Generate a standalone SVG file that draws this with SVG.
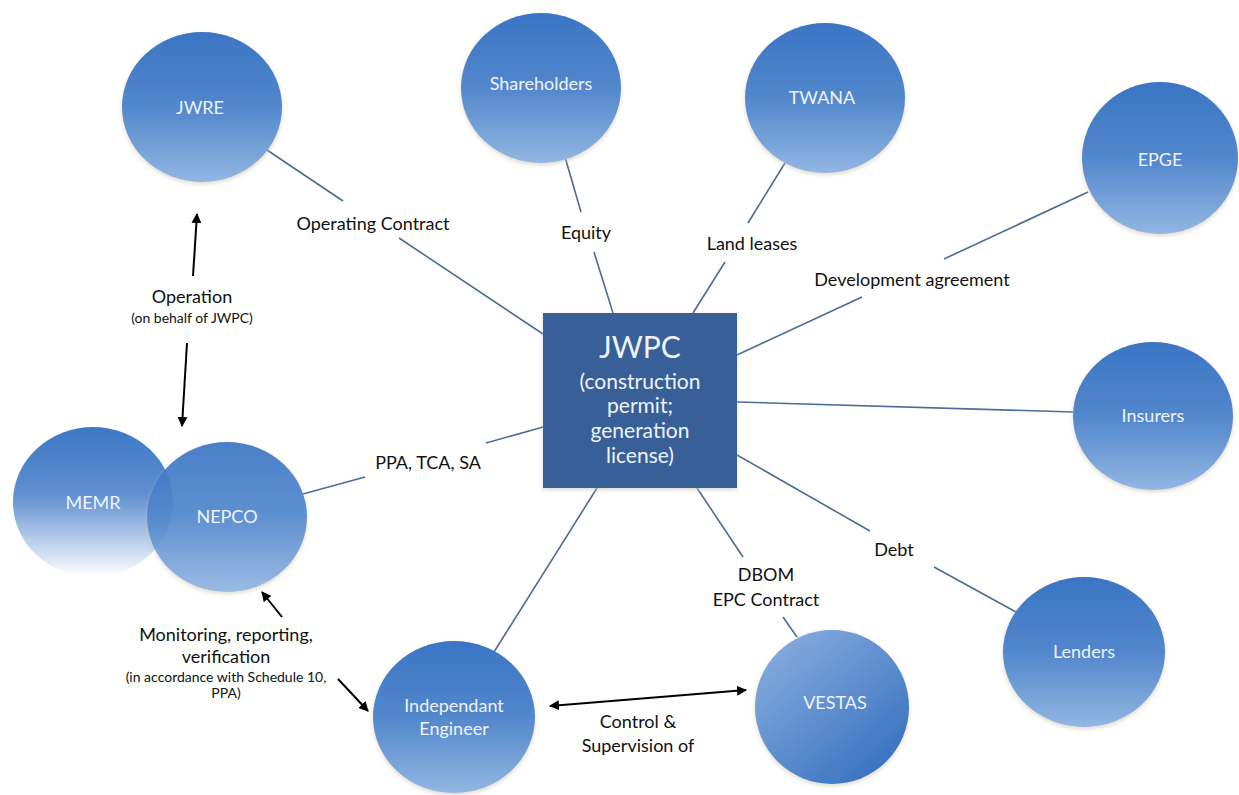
<svg xmlns="http://www.w3.org/2000/svg" width="1239" height="795" viewBox="0 0 1239 795">
<defs>
<linearGradient id="gBlue" x1="0" y1="0" x2="0" y2="1">
<stop offset="0" stop-color="#3a75c4"/>
<stop offset="0.5" stop-color="#5287cc"/>
<stop offset="1" stop-color="#92b6e2"/>
</linearGradient>
<linearGradient id="gFade" x1="0" y1="0" x2="0" y2="1">
<stop offset="0" stop-color="#3d78c6"/>
<stop offset="0.45" stop-color="#5f8fd0"/>
<stop offset="1" stop-color="#ffffff"/>
</linearGradient>
<linearGradient id="gDiag" x1="0.15" y1="0.1" x2="0.85" y2="0.9">
<stop offset="0" stop-color="#82a9dc"/>
<stop offset="1" stop-color="#3a73c2"/>
</linearGradient>
<filter id="sh" x="-20%" y="-20%" width="140%" height="140%">
<feDropShadow dx="0" dy="2" stdDeviation="2" flood-color="#c8c0a8" flood-opacity="0.6"/>
</filter>
<marker id="ah" viewBox="0 0 10 10" refX="9" refY="5" markerWidth="5" markerHeight="5" orient="auto-start-reverse">
<path d="M0,0 L10,5 L0,10 z" fill="#000"/>
</marker>
</defs>
<style>
.node{fill:url(#gBlue);filter:url(#sh)}
.nt{font-family:"Lato","Open Sans","Liberation Sans",sans-serif;font-size:18px;fill:#eef3fb;text-anchor:middle}
.lbl{font-family:"Lato","Open Sans","Liberation Sans",sans-serif;font-size:18px;fill:#111;text-anchor:middle}
.sm{font-family:"Lato","Open Sans","Liberation Sans",sans-serif;font-size:14px;fill:#111;text-anchor:middle}
.ln{stroke:#4a6c96;stroke-width:1.6;fill:none}
.ar{stroke:#000;stroke-width:2;fill:none;marker-end:url(#ah)}
.ar2{stroke:#000;stroke-width:2;fill:none;marker-end:url(#ah);marker-start:url(#ah)}
.bt{font-family:"Lato","Open Sans","Liberation Sans",sans-serif;fill:#eef3fb;text-anchor:middle}
</style>
<rect width="1239" height="795" fill="#fff"/>

<g id="connectors">
<line class="ln" x1="267" y1="150" x2="343" y2="201"/>
<line class="ln" x1="399" y1="238" x2="543" y2="334"/>
<line class="ln" x1="565" y1="157" x2="581" y2="212"/>
<line class="ln" x1="594" y1="252" x2="613" y2="313"/>
<line class="ln" x1="785" y1="163" x2="748" y2="223"/>
<line class="ln" x1="725" y1="262" x2="693" y2="313"/>
<line class="ln" x1="1088" y1="192" x2="944" y2="259"/>
<line class="ln" x1="862" y1="297" x2="737" y2="355"/>
<line class="ln" x1="737" y1="402" x2="1073" y2="412"/>
<line class="ln" x1="737" y1="455" x2="870" y2="531"/>
<line class="ln" x1="934" y1="567" x2="1016" y2="612"/>
<line class="ln" x1="697" y1="488" x2="743" y2="557"/>
<line class="ln" x1="783" y1="617" x2="797" y2="637"/>
<line class="ln" x1="597" y1="488" x2="494" y2="652"/>
<line class="ln" x1="303" y1="494" x2="365" y2="477"/>
<line class="ln" x1="486" y1="443" x2="543" y2="427"/>
<line class="ar" x1="193" y1="276" x2="197" y2="214"/>
<line class="ar" x1="187" y1="343" x2="182" y2="426"/>
<line class="ar" x1="282" y1="617" x2="262" y2="592"/>
<line class="ar" x1="338" y1="679" x2="368" y2="711"/>
<line class="ar2" x1="550" y1="706" x2="746" y2="690"/>
</g>

<g id="labels">
<text class="lbl" x="373" y="230">Operating Contract</text>
<text class="lbl" x="586" y="239">Equity</text>
<text class="lbl" x="752" y="250">Land leases</text>
<text class="lbl" x="912" y="286">Development agreement</text>
<text class="lbl" x="428" y="469">PPA, TCA, SA</text>
<text class="lbl" x="894" y="556">Debt</text>
<text class="lbl" x="766" y="581">DBOM</text>
<text class="lbl" x="766" y="606">EPC Contract</text>
<text class="lbl" x="192" y="303">Operation</text>
<text class="sm" x="192" y="323">(on behalf of JWPC)</text>
<text class="lbl" x="226" y="641">Monitoring, reporting,</text>
<text class="lbl" x="226" y="663">verification</text>
<text class="sm" x="226" y="682">(in accordance with Schedule 10,</text>
<text class="sm" x="226" y="698">PPA)</text>
<text class="lbl" x="638" y="728">Control &amp;</text>
<text class="lbl" x="638" y="752">Supervision of</text>
</g>

<g id="jwpc">
<rect x="543" y="313" width="194" height="175" fill="#385f98" filter="url(#sh)"/>
<text class="bt" x="640" y="358" font-size="30">JWPC</text>
<text class="bt" x="640" y="389" font-size="21">(construction</text>
<text class="bt" x="640" y="413" font-size="21">permit;</text>
<text class="bt" x="640" y="438" font-size="21">generation</text>
<text class="bt" x="640" y="463" font-size="21">license)</text>
</g>

<g id="jwre"><ellipse class="node" cx="202" cy="107" rx="80" ry="75"/><text class="nt" x="200" y="114">JWRE</text></g>
<g id="shareholders"><ellipse class="node" cx="541" cy="88" rx="80" ry="75"/><text class="nt" x="541" y="90">Shareholders</text></g>
<g id="twana"><ellipse class="node" cx="825" cy="98" rx="80" ry="75"/><text class="nt" x="822" y="104">TWANA</text></g>
<g id="epge"><ellipse class="node" cx="1160" cy="158" rx="78" ry="76"/><text class="nt" x="1160" y="166">EPGE</text></g>
<g id="insurers"><ellipse class="node" cx="1153" cy="416" rx="80" ry="74"/><text class="nt" x="1153" y="422">Insurers</text></g>
<g id="lenders"><ellipse class="node" cx="1084" cy="652" rx="81" ry="75"/><text class="nt" x="1084" y="658">Lenders</text></g>
<g id="vestas"><ellipse cx="832" cy="707" rx="77" ry="77" fill="url(#gDiag)" filter="url(#sh)"/><text class="nt" x="835" y="709">VESTAS</text></g>
<g id="independant-engineer"><ellipse class="node" cx="454" cy="717" rx="81" ry="76"/><text class="nt" x="454" y="712">Independant</text><text class="nt" x="454" y="735">Engineer</text></g>
<g id="memr"><ellipse cx="93" cy="502" rx="80" ry="75" fill="url(#gFade)"/><text class="nt" x="93" y="509">MEMR</text></g>
<g id="nepco"><ellipse class="node" cx="227" cy="517" rx="80" ry="75" opacity="0.92"/><text class="nt" x="227" y="523">NEPCO</text></g>
</svg>
